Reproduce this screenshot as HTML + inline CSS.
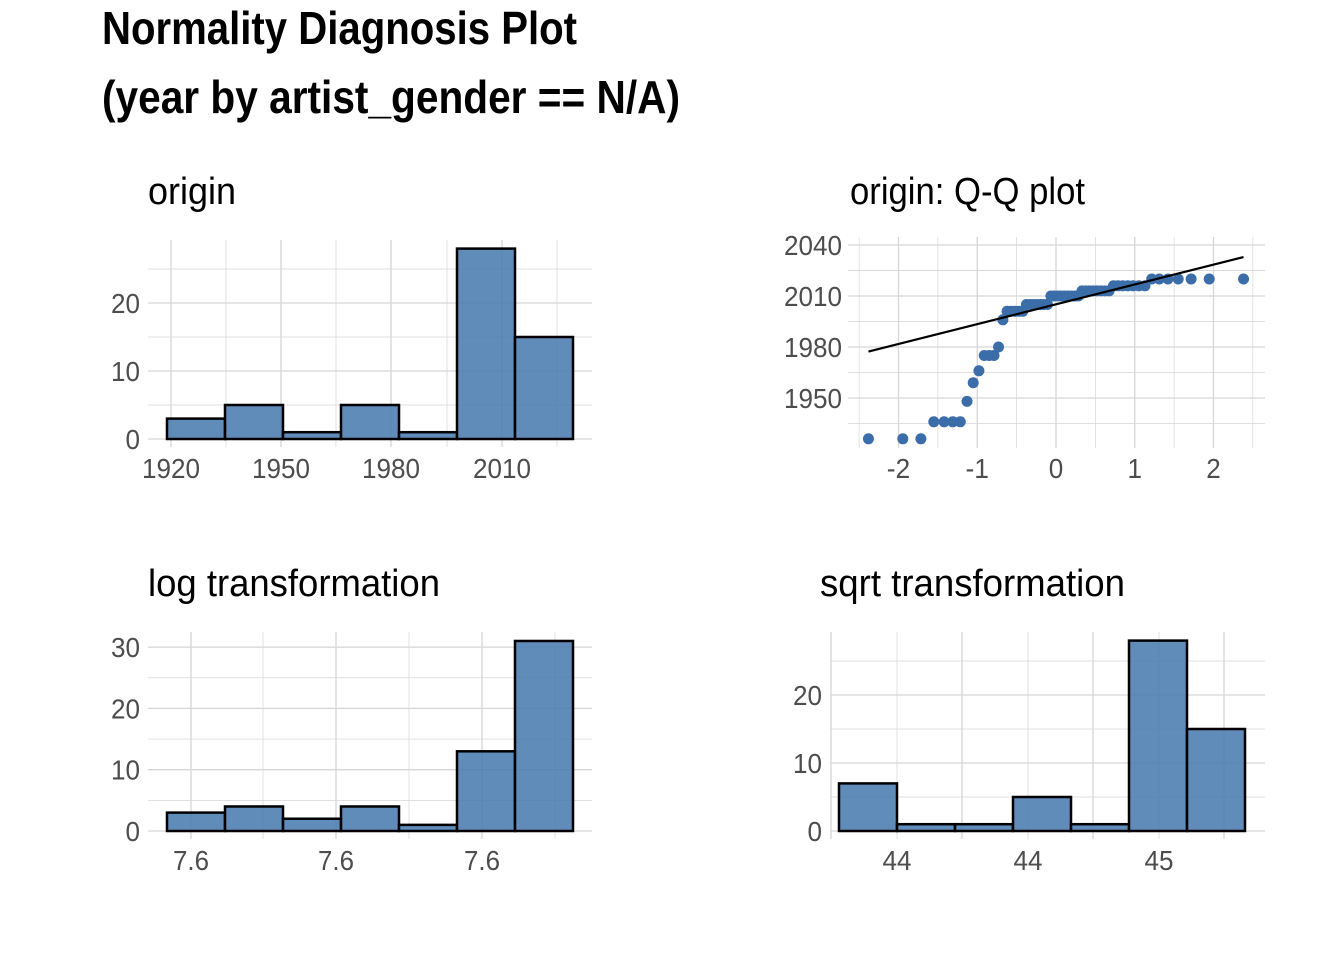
<!DOCTYPE html>
<html><head><meta charset="utf-8">
<style>
html,body{margin:0;padding:0;background:#fff;}
svg{display:block;font-family:"Liberation Sans Narrow","Liberation Sans",sans-serif;}
.tick{fill:#4d4d4d;font-size:28px;}
.ptitle{fill:#000;font-size:38px;}
</style></head>
<body>
<svg id="chart" width="1344" height="960" viewBox="0 0 1344 960">
<text x="102" y="44" font-size="46" font-weight="bold" textLength="475" lengthAdjust="spacingAndGlyphs">Normality Diagnosis Plot</text>
<text x="102" y="113" font-size="46" font-weight="bold" textLength="578" lengthAdjust="spacingAndGlyphs">(year by artist_gender == N/A)</text>
<text class="ptitle" x="148" y="204" textLength="88" lengthAdjust="spacingAndGlyphs">origin</text>
<text class="ptitle" x="850" y="204" textLength="235" lengthAdjust="spacingAndGlyphs">origin: Q-Q plot</text>
<text class="ptitle" x="148" y="596" textLength="292" lengthAdjust="spacingAndGlyphs">log transformation</text>
<text class="ptitle" x="820" y="596" textLength="305" lengthAdjust="spacingAndGlyphs">sqrt transformation</text>
</svg>
<script>
// ---- data ----
const originCounts = [3, 5, 1, 5, 1, 28, 15];
const originYTicks = [0, 10, 20];
const originXTicks = [1920, 1950, 1980, 2010];
const logCounts = [3, 4, 2, 4, 1, 13, 31];
const logYTicks = [0, 10, 20, 30];
const logXTickLabels = ["7.6", "7.6", "7.6"];
const sqrtCounts = [7, 1, 1, 5, 1, 28, 15];
const sqrtYTicks = [0, 10, 20];
const sqrtXTickLabels = ["44", "44", "45"];
const qqSample = [1926,1926,1926,1936,1936,1936,1936,1948,1959,1966,1975,1975,1975,1980,1996,
  2001,2001,2001,2001,2001,2005,2005,2005,2005,2005,2005,2005,
  2010,2010,2010,2010,2010,2010,2010,2010,2010,
  2013,2013,2013,2013,2013,2013,2013,2013,
  2016,2016,2016,2016,2016,2016,2016,
  2020,2020,2020,2020,2020,2020,2020];
const qqYTicks = [1950, 1980, 2010, 2040];
const qqXTicks = [-2, -1, 0, 1, 2];

const NS = "http://www.w3.org/2000/svg";
const svg = document.getElementById("chart");
function mk(tag, attrs, parent) {
  const e = document.createElementNS(NS, tag);
  for (const k in attrs) e.setAttribute(k, attrs[k]);
  (parent || svg).appendChild(e);
  return e;
}
function grid(x1,y1,x2,y2,major){
  const l = mk("line",{x1,y1,x2,y2,stroke:"#d6d6d6","stroke-width":major?1.3:0.7});
  
  
}
function label(x,y,t,anchor){
  let w = 0;
  for (const ch of t) w += (ch === '.') ? 7 : (ch === '-' ? 9 : 14.5);
  const e = mk("text",{x,y,class:"tick","text-anchor":anchor,textLength:w,lengthAdjust:"spacingAndGlyphs"});
  e.textContent = t;
  
  
}

function histogram(cfg){
  const n = cfg.counts.length;
  const y = v => cfg.y0 - v * cfg.pxPerUnit;
  const step = cfg.yTicks[1] - cfg.yTicks[0];
  for (let v = step/2; y(v) >= cfg.top; v += step) grid(cfg.left, y(v), cfg.right, y(v), false);
  cfg.yTicks.forEach(v => { grid(cfg.left, y(v), cfg.right, y(v), true); label(cfg.left-8, y(v)+10, String(v), "end"); });
  cfg.xGrid.forEach((gx,i) => grid(gx, cfg.top, gx, cfg.y0+8, i % 2 === 0));
  cfg.xLabels.forEach((t,i) => label(cfg.xGrid[i*2 + cfg.labelOffset], cfg.y0+39, t, "middle"));
  const w = (cfg.barR - cfg.barL) / n;
  const g = mk("g", {});
  
  
  cfg.counts.forEach((c,i) => {
    const r = mk("rect",{x:cfg.barL+i*w, y:y(c), width:w, height:c*cfg.pxPerUnit,
      fill:"#4a7cb0","fill-opacity":0.88, stroke:"#000","stroke-width":2.5}, g);
    
    
  });
}

histogram({name:"origin", counts:originCounts, yTicks:originYTicks, left:148, right:592, top:240,
  y0:439, pxPerUnit:6.8, barL:167, barR:573,
  xGrid:[171,226,281,336,391,447,502,557], xLabels:originXTicks.map(String), labelOffset:0});
histogram({name:"log", counts:logCounts, yTicks:logYTicks, left:148, right:592, top:632,
  y0:831, pxPerUnit:6.13, barL:167, barR:573,
  xGrid:[191,263,336,409,482,555], xLabels:logXTickLabels, labelOffset:0});
histogram({name:"sqrt", counts:sqrtCounts, yTicks:sqrtYTicks, left:830, right:1265, top:632,
  y0:831, pxPerUnit:6.8, barL:839, barR:1245,
  xGrid:[831,897,962,1028,1093,1159,1224], xLabels:sqrtXTickLabels, labelOffset:1});

// ---- Q-Q plot ----
function qnorm(p){
  const a=[-39.6968302866538,220.946098424521,-275.928510446969,138.357751867269,-30.6647980661472,2.50662827745924];
  const b=[-54.4760987982241,161.585836858041,-155.698979859887,66.8013118877197,-13.2806815528857];
  const c=[-0.00778489400243029,-0.322396458041136,-2.40075827716184,-2.54973253934373,4.37466414146497,2.93816398269878];
  const d=[0.00778469570904146,0.32246712907004,2.445134137143,3.75440866190742];
  let q,r;
  if(p<0.02425){q=Math.sqrt(-2*Math.log(p));return (((((c[0]*q+c[1])*q+c[2])*q+c[3])*q+c[4])*q+c[5])/((((d[0]*q+d[1])*q+d[2])*q+d[3])*q+1);}
  if(p>1-0.02425){q=Math.sqrt(-2*Math.log(1-p));return -(((((c[0]*q+c[1])*q+c[2])*q+c[3])*q+c[4])*q+c[5])/((((d[0]*q+d[1])*q+d[2])*q+d[3])*q+1);}
  q=p-0.5;r=q*q;
  return (((((a[0]*r+a[1])*r+a[2])*r+a[3])*r+a[4])*r+a[5])*q/(((((b[0]*r+b[1])*r+b[2])*r+b[3])*r+b[4])*r+1);
}
const qx = z => 1056 + z * 78.75;
const qy = v => 296 - (v - 2010) * 1.7;
const qTop = 237, qBot = 448, qL = 848, qR = 1265;
for (let i=0;i<qqYTicks.length;i++){
  grid(qL, qy(qqYTicks[i]), qR, qy(qqYTicks[i]), true);
  label(qL-6, qy(qqYTicks[i])+10, String(qqYTicks[i]), "end");
  const m = qqYTicks[i] - 15;
  if (qy(m) < qBot) grid(qL, qy(m), qR, qy(m), false);
}
grid(qL, qy(2025), qR, qy(2025), false);
qqXTicks.forEach(z => { grid(qx(z), qTop, qx(z), qBot, true); label(qx(z), 478, (z<0?"-":"")+Math.abs(z), "middle"); });
[-2.5,-1.5,-0.5,0.5,1.5,2.5].forEach(z => grid(qx(z), qTop, qx(z), qBot, false));

const sorted = qqSample.slice().sort((a,b)=>a-b);
const N = sorted.length;
const pts = mk("g", {});


sorted.forEach((v,i) => {
  const z = qnorm((i+1-0.5)/N);
  const c = mk("circle",{cx:qx(z), cy:qy(v), r:5.5, fill:"#3b6ea8"}, pts);
  
  
});
function quant(p){ const h=(N-1)*p, lo=Math.floor(h); return sorted[lo] + (h-lo)*((sorted[lo+1]??sorted[lo]) - sorted[lo]); }
const q1 = quant(0.25), q3 = quant(0.75), z1 = qnorm(0.25), z3 = qnorm(0.75);
const slope = (q3-q1)/(z3-z1), inter = q1 - slope*z1;
const zmin = qnorm(0.5/N), zmax = qnorm(1-0.5/N);
const ln = mk("line",{x1:qx(zmin), y1:qy(inter+slope*zmin), x2:qx(zmax), y2:qy(inter+slope*zmax), stroke:"#000","stroke-width":2.2});


</script>
</body></html>
